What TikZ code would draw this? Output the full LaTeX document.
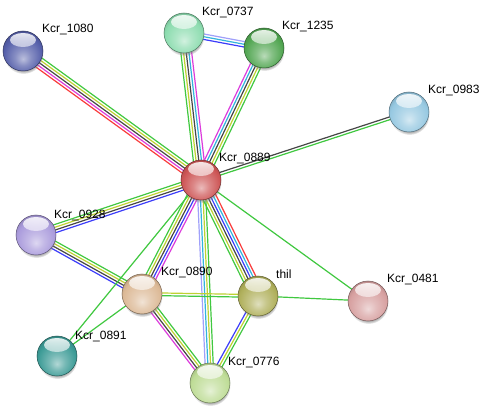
\documentclass[tikz,border=0pt]{standalone}
\usepackage{fontspec}
\setmainfont{Liberation Sans}
\usetikzlibrary{calc,shadows,fadings}
\pgfdeclarelayer{bg}
\pgfdeclarelayer{edges}
\pgfsetlayers{bg,edges,main}
\definecolor{strgreen}{RGB}{64,200,64}
\definecolor{stryg}{RGB}{190,210,50}
\definecolor{strgrey}{RGB}{70,70,70}
\definecolor{strmag}{RGB}{220,60,220}
\definecolor{strred}{RGB}{250,60,60}
\definecolor{strblue}{RGB}{60,60,250}
\definecolor{strcyan}{RGB}{50,180,220}
\definecolor{strlav}{RGB}{160,160,250}
\definecolor{c0889}{RGB}{205,85,85}
\definecolor{c1080}{RGB}{85,95,170}
\definecolor{c0737}{RGB}{140,220,175}
\definecolor{c1235}{RGB}{80,165,80}
\definecolor{c0983}{RGB}{150,200,225}
\definecolor{c0928}{RGB}{170,155,220}
\definecolor{c0890}{RGB}{220,185,150}
\definecolor{cthil}{RGB}{175,175,90}
\definecolor{c0481}{RGB}{215,160,160}
\definecolor{c0891}{RGB}{60,155,150}
\definecolor{c0776}{RGB}{190,220,150}
\colorlet{ballbase}{red}
\pgfdeclareradialshading[ballbase]{stringball}{\pgfpoint{0bp}{-10bp}}{%
  color(0bp)=(ballbase!40!white); color(10bp)=(ballbase!70!white);
  color(24bp)=(ballbase); color(32bp)=(ballbase!80!black);
  color(50bp)=(ballbase!60!black)}
\tikzfading[name=hlfade, top color=transparent!0, bottom color=transparent!100]
\newcommand{\stredge}[3]{%
  \foreach \c [count=\i] in {#3} {\xdef\nlines{\i}}%
  \foreach \c [count=\i] in {#3} {%
    \pgfmathsetmacro{\off}{(\i-1-(\nlines-1)/2)*2.7}%
    \draw[edgeline, draw=\c] ($(#1.center)!\off pt!90:(#2.center)$) -- ($(#2.center)!\off pt!-90:(#1.center)$);
  }}
\tikzset{
  edgeline/.style={line width=1.2pt},
  ball/.style={circle, minimum size=40pt, inner sep=0pt,
    /utils/exec={\colorlet{ballbase}{#1}}, shading=stringball, shade,
    draw=#1!55!black, line width=0.5pt,
    circular drop shadow={shadow xshift=0.5pt, shadow yshift=-3pt, shadow scale=1.0, opacity=0.6},
    path picture={\fill[white, fill opacity=0.9, path fading=hlfade] ([yshift=11pt]path picture bounding box.center) ellipse [x radius=13pt, y radius=7pt];}},
  lbl/.style={anchor=base west, inner sep=0pt, font=\fontsize{12}{14}\selectfont, text=black}
}
\begin{document}
\begin{tikzpicture}[x=1pt,y=-1pt]
\begin{pgfonlayer}{bg}
\fill[white] (0,0) rectangle (488,409);
\end{pgfonlayer}
\useasboundingbox (0,0) rectangle (488,409);
\node[ball=c0889] (n0889) at (201,180) {};
\node[ball=c1080] (n1080) at (23,51) {};
\node[ball=c0737] (n0737) at (184,33) {};
\node[ball=c1235] (n1235) at (264,48) {};
\node[ball=c0983] (n0983) at (409,112) {};
\node[ball=c0928] (n0928) at (36,235) {};
\node[ball=c0890] (n0890) at (142,294) {};
\node[ball=cthil] (nthil) at (258,296) {};
\node[ball=c0481] (n0481) at (368,301) {};
\node[ball=c0891] (n0891) at (57,356) {};
\node[ball=c0776] (n0776) at (210,383) {};
\node[lbl] (l0889) at (219,162) {Kcr\_0889};
\node[lbl] (l1080) at (42,33) {Kcr\_1080};
\node[lbl] (l0737) at (202,16) {Kcr\_0737};
\node[lbl] (l1235) at (282,30) {Kcr\_1235};
\node[lbl] (l0983) at (428,94) {Kcr\_0983};
\node[lbl] (l0928) at (54,219) {Kcr\_0928};
\node[lbl] (l0890) at (161,276) {Kcr\_0890};
\node[lbl] (lthil) at (276,279) {thil};
\node[lbl] (l0481) at (387,283) {Kcr\_0481};
\node[lbl] (l0891) at (75,339) {Kcr\_0891};
\node[lbl] (l0776) at (228,365) {Kcr\_0776};
\begin{pgfonlayer}{edges}
\stredge{n1080}{n0889}{strred,strmag,strgrey,stryg,strgreen}
\stredge{n0737}{n0889}{strgreen,stryg,strgrey,strcyan,strmag}
\stredge{n1235}{n0889}{strmag,strcyan,strgrey,stryg,strgreen}
\stredge{n0737}{n1235}{strblue,strcyan,strlav}
\stredge{n0889}{n0983}{strgreen,strgrey}
\stredge{n0928}{n0889}{strblue,strgrey,stryg,strgreen}
\stredge{n0928}{n0890}{strblue,strgrey,stryg,strgreen}
\stredge{n0889}{n0890}{strgreen,stryg,strgrey,strblue,strmag}
\stredge{n0889}{n0891}{strgreen}
\stredge{n0890}{n0891}{strgreen}
\stredge{n0889}{n0776}{strlav,strcyan,stryg,strgreen}
\stredge{n0889}{nthil}{strgreen,stryg,strgrey,strblue,strcyan,strred}
\stredge{n0889}{n0481}{strgreen}
\stredge{nthil}{n0481}{strgreen}
\stredge{n0890}{nthil}{strgreen,stryg}
\stredge{n0890}{n0776}{strmag,strgrey,stryg,strgreen}
\stredge{nthil}{n0776}{strblue,stryg,strgreen}
\end{pgfonlayer}
\end{tikzpicture}
\end{document}
